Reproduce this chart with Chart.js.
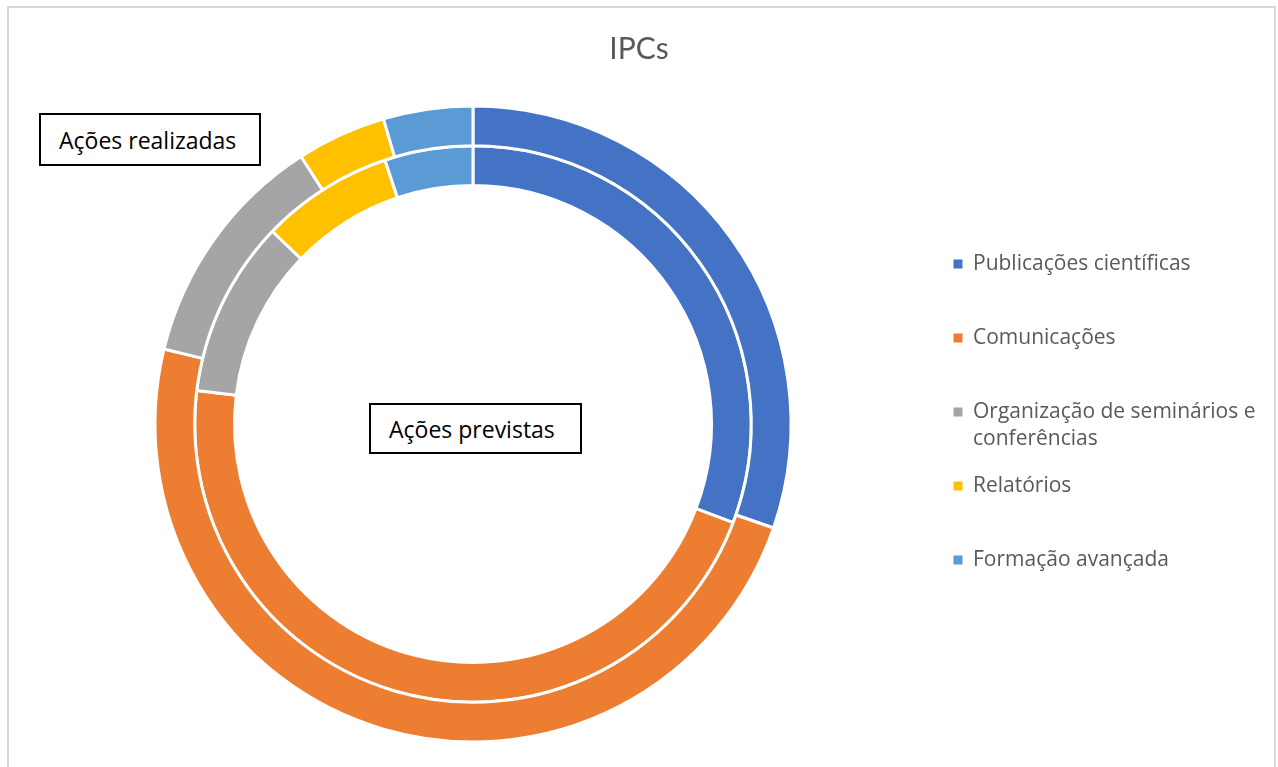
<!DOCTYPE html>
<html>
<head>
<meta charset="utf-8">
<script src="https://cdn.jsdelivr.net/npm/chart.js@4"></script>
<style>
html,body{margin:0;padding:0;background:#fff;overflow:hidden;}
#wrap{position:relative;width:1278px;height:767px;overflow:hidden;background:#fff;}
#frame{position:absolute;left:7px;top:6px;width:1265px;height:820px;border:2px solid #d9d9d9;}
canvas{position:absolute;left:0;top:0;}
.note{position:absolute;box-sizing:border-box;border:2px solid #000;background:#fff;font-family:"Open Sans",sans-serif;font-size:23px;color:#000;display:flex;align-items:center;padding-left:18px;white-space:nowrap;}
</style>
</head>
<body>
<div id="wrap">
<div id="frame"></div>
<canvas id="c" width="1278" height="767"></canvas>
<div class="note" id="n1" style="left:39px;top:113px;width:222px;height:53px"></div>
<div class="note" id="n2" style="left:369px;top:403px;width:213px;height:51px"></div>
</div>
<script>
const chartTitle = 'IPCs';
const categories = ['Publicações científicas', 'Comunicações', 'Organização de seminários e conferências', 'Relatórios', 'Formação avançada'];
const legendLines = [['Publicações científicas', ''], ['Comunicações', ''], ['Organização de seminários e', 'conferências'], ['Relatórios', ''], ['Formação avançada', '']];
const seriesNames = ['Ações realizadas', 'Ações previstas'];
const realizadas = [20, 32, 8, 3, 3];
const previstas = [12, 18, 4, 3, 2];
const colors = ['#4472C4', '#ED7D31', '#A5A5A5', '#FFC000', '#5B9BD5'];

document.getElementById('n1').textContent = seriesNames[0];
document.getElementById('n2').textContent = seriesNames[1];

const legendFontSize = 21;
const boxW = 9;
const legPad = 20;
const targetBoxLeft = 953.5;
const centerX = 473;

const chart = new Chart(document.getElementById('c'), {
  type: 'doughnut',
  data: {
    labels: categories,
    datasets: [
      { label: seriesNames[0], data: realizadas, backgroundColor: colors, borderColor: '#ffffff', borderWidth: 3, hoverOffset: 0 },
      { label: seriesNames[1], data: previstas, backgroundColor: colors, borderColor: '#ffffff', borderWidth: 3, hoverOffset: 0 }
    ]
  },
  options: {
    responsive: false,
    animation: false,
    events: [],
    cutout: '75%',
    layout: { padding: { left: 10, right: 10, top: 0, bottom: 23.5 } },
    plugins: {
      tooltip: { enabled: false },
      title: {
        display: true,
        text: chartTitle,
        color: '#595959',
        font: { family: 'Lato', size: 30, weight: 'normal', lineHeight: 1.2 },
        padding: { top: 31, bottom: 37.5 }
      },
      legend: {
        display: true,
        position: 'right',
        fullSize: false,
        align: 'center',
        title: { display: true, text: '', padding: 0, font: { family: 'Open Sans', size: 9, lineHeight: '9px' } },
        labels: {
          color: '#595959',
          font: { family: 'Open Sans', size: legendFontSize, lineHeight: '27px' },
          boxWidth: boxW,
          boxHeight: boxW,
          padding: legPad,
          generateLabels(c) {
            const items = Chart.overrides.doughnut.plugins.legend.labels.generateLabels(c);
            items.forEach((it, i) => { it.text = legendLines[i]; it.lineWidth = 0; it.strokeStyle = colors[i]; });
            return items;
          }
        }
      }
    }
  }
});

// place legend and doughnut like the reference
const lw = chart.legend.width;
const legendLeft = targetBoxLeft - legPad;
chart.options.layout.padding.left = 2 * centerX - legendLeft;
chart.options.layout.padding.right = Math.max(0, 1278 - legendLeft - lw);
chart.update();
</script>
</body>
</html>
